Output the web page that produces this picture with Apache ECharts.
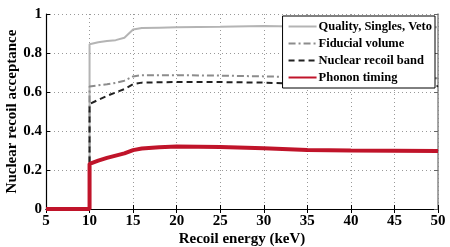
<!DOCTYPE html>
<html><head><meta charset="utf-8">
<script src="https://cdn.jsdelivr.net/npm/echarts@6/dist/echarts.min.js"></script>
<style>html,body{margin:0;padding:0;background:#fff}#c{width:450px;height:247px}</style>
</head><body><div id="c"></div>
<script>
const seriesNames = ['Quality, Singles, Veto', 'Fiducial volume', 'Nuclear recoil band', 'Phonon timing'];
const energy = [5, 10, 10, 11, 12, 13, 14, 15, 16, 18, 20, 25, 30, 35, 40, 45, 50];
const quality = [0, 0, 0.845, 0.855, 0.862, 0.866, 0.878, 0.92, 0.928, 0.93, 0.932, 0.934, 0.938, 0.934, 0.934, 0.934, 0.932];
const fiducial = [0, 0, 0.628, 0.634, 0.640, 0.647, 0.658, 0.680, 0.686, 0.686, 0.686, 0.684, 0.680, 0.676, 0.675, 0.672, 0.670];
const nrband = [0, 0, 0.538, 0.560, 0.580, 0.598, 0.615, 0.640, 0.648, 0.650, 0.651, 0.651, 0.648, 0.642, 0.638, 0.634, 0.630];
const phonon = [0, 0, 0.232, 0.248, 0.262, 0.274, 0.285, 0.302, 0.310, 0.317, 0.320, 0.318, 0.312, 0.303, 0.300, 0.299, 0.297];

const pair = arr => energy.map((e, i) => [e, arr[i]]);
const font = 'Liberation Serif';
const chart = echarts.init(document.getElementById('c'));
const tickStyle = {inside: true, length: 4, lineStyle: {color: '#000'}};
chart.setOption({
  animation: false,
  grid: {left: 46, right: 12, top: 14, bottom: 38, show: false, containLabel: false, outerBoundsMode: 'none'},
  xAxis: [{
    type: 'value', min: 5, max: 50, interval: 5,
    name: 'Recoil energy (keV)', nameLocation: 'middle', nameGap: 23, nameMoveOverlap: false,
    nameTextStyle: {fontFamily: font, fontWeight: 'bold', fontSize: 15, color: '#000'},
    axisLine: {lineStyle: {color: '#000', width: 1.2}},
    axisTick: tickStyle,
    axisLabel: {fontFamily: font, fontWeight: 'bold', fontSize: 15, color: '#000', margin: 5},
    splitLine: {show: true, lineStyle: {type: [1, 3], color: '#999'}}
  }, {
    type: 'value', min: 5, max: 50, interval: 5, position: 'top',
    axisLine: {show: true, lineStyle: {color: '#000', width: 1.2}},
    axisTick: tickStyle, axisLabel: {show: false}, splitLine: {show: false}
  }],
  yAxis: [{
    type: 'value', min: 0, max: 1, interval: 0.2,
    name: 'Nuclear recoil acceptance', nameLocation: 'middle', nameGap: 26, nameMoveOverlap: false,
    nameTextStyle: {fontFamily: font, fontWeight: 'bold', fontSize: 15, color: '#000'},
    axisLine: {show: true, lineStyle: {color: '#000', width: 1.2}},
    axisTick: {show: true, ...tickStyle},
    axisLabel: {fontFamily: font, fontWeight: 'bold', fontSize: 15, color: '#000', margin: 4,
      formatter: v => String(Math.round(v * 10) / 10)},
    splitLine: {show: true, lineStyle: {type: [1, 3], color: '#999'}}
  }, {
    type: 'value', min: 0, max: 1, interval: 0.2, position: 'right',
    axisLine: {show: true, lineStyle: {color: '#888', width: 1.5}},
    axisTick: {show: true, inside: true, length: 4, lineStyle: {color: '#666'}},
    axisLabel: {show: false}, splitLine: {show: false}
  }],
  legend: {
    orient: 'vertical', right: 15, top: 16, itemWidth: 28, itemHeight: 11, itemGap: 4,
    backgroundColor: '#fff', borderColor: '#000', borderWidth: 1, borderRadius: 0,
    padding: [4, 3, 4, 5],
    itemStyle: {opacity: 0},
    textStyle: {fontFamily: font, fontWeight: 'bold', fontSize: 12.5, color: '#000', padding: [0, 0, 0, -3]},
    data: seriesNames
  },
  series: [
    {name: seriesNames[0], type: 'line', data: pair(quality), symbol: 'none',
     lineStyle: {color: '#b4b4b4', width: 2, type: 'solid'}, itemStyle: {color: '#b4b4b4'}},
    {name: seriesNames[1], type: 'line', data: pair(fiducial), symbol: 'none',
     lineStyle: {color: '#8c8c8c', width: 2, type: [7, 3, 2, 3]}, itemStyle: {color: '#8c8c8c'}},
    {name: seriesNames[2], type: 'line', data: pair(nrband), symbol: 'none',
     lineStyle: {color: '#222', width: 2, type: [6, 4]}, itemStyle: {color: '#222'}},
    {name: seriesNames[3], type: 'line', data: pair(phonon), symbol: 'none', z: 5,
     lineStyle: {color: '#c0142a', width: 4, type: 'solid'}, itemStyle: {color: '#c0142a'}}
  ]
});
</script></body></html>
